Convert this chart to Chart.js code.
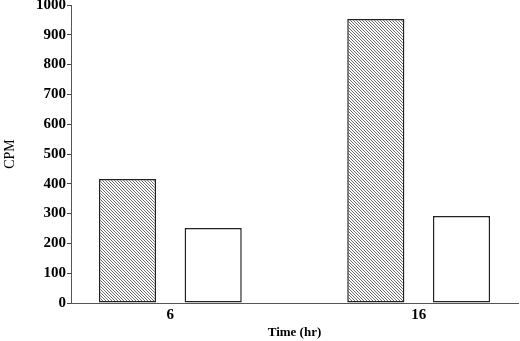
<!DOCTYPE html>
<html>
<head>
<meta charset="utf-8">
<script src="https://cdn.jsdelivr.net/npm/chart.js@4.4.1/dist/chart.umd.min.js"></script>
<style>
  html, body { margin: 0; padding: 0; background: #fff; }
</style>
</head>
<body>
<canvas id="chart" width="520" height="341"></canvas>
<script>
const categories = ['6', '16'];
const timePoints = [6, 16];
const hatchedValues = [416, 953];
const openValues = [252, 292];

// diagonal hatch fill for the first series
function hatch() {
    const c = document.createElement('canvas');
    c.width = 3;
    c.height = 3;
    const g = c.getContext('2d');
    g.fillStyle = '#fff';
    g.fillRect(0, 0, 3, 3);
    g.fillStyle = '#6a6a6a';
    for (let i = 0; i < 3; i++) g.fillRect(i, i, 1, 1);
    return g.createPattern(c, 'repeat');
}

const ctx = document.querySelector('#chart').getContext('2d');
const serif = "'Liberation Serif', 'Times New Roman', serif";

new Chart(ctx, {
    type: 'bar',
    data: {
        datasets: [
            {
                label: 'A',
                data: timePoints.map((t, i) => ({ x: t, y: hatchedValues[i] })),
                backgroundColor: hatch(),
                borderColor: '#222',
                borderWidth: 1.5,
                borderSkipped: false
            },
            {
                label: 'B',
                data: timePoints.map((t, i) => ({ x: t, y: openValues[i] })),
                backgroundColor: '#fff',
                borderColor: '#222',
                borderWidth: 1.5,
                borderSkipped: false
            }
        ]
    },
    options: {
        responsive: false,
        animation: false,
        devicePixelRatio: 1,
        categoryPercentage: 0.69,
        barPercentage: 0.667,
        layout: { padding: { left: 0, right: 2, top: 0, bottom: 0 } },
        plugins: {
            legend: { display: false },
            tooltip: { enabled: false }
        },
        scales: {
            x: {
                type: 'linear',
                min: 2,
                max: 20,
                offset: false,
                afterBuildTicks: s => { s.ticks = timePoints.map(v => ({ value: v })); },
                afterFit: s => { s.height = 38; },
                grid: { display: false, drawTicks: false, tickLength: 0 },
                border: { display: true, color: '#555', width: 1 },
                ticks: {
                    padding: 3,
                    color: '#000',
                    font: { family: serif, size: 15, weight: 'bold' },
                    callback: (v) => categories[timePoints.indexOf(v)]
                },
                title: {
                    display: true,
                    text: 'Time (hr)',
                    color: '#000',
                    font: { family: serif, size: 13, weight: 'bold' },
                    padding: { top: 0, bottom: 1 }
                }
            },
            y: {
                min: 0,
                max: 1000,
                afterFit: s => { s.width = 71; s.paddingTop = 5; s.paddingBottom = 0; },
                grid: { drawOnChartArea: false, drawTicks: true, tickLength: 4, color: '#444' },
                border: { display: true, color: '#555', width: 1 },
                ticks: {
                    stepSize: 100,
                    padding: 1,
                    color: '#000',
                    font: { family: serif, size: 15, weight: 'bold' },
                    callback: (v) => String(v)
                },
                title: {
                    display: true,
                    text: 'CPM',
                    color: '#000',
                    font: { family: serif, size: 14 },
                    padding: { top: 2, bottom: 0 }
                }
            }
        }
    }
});
</script>
</body>
</html>
